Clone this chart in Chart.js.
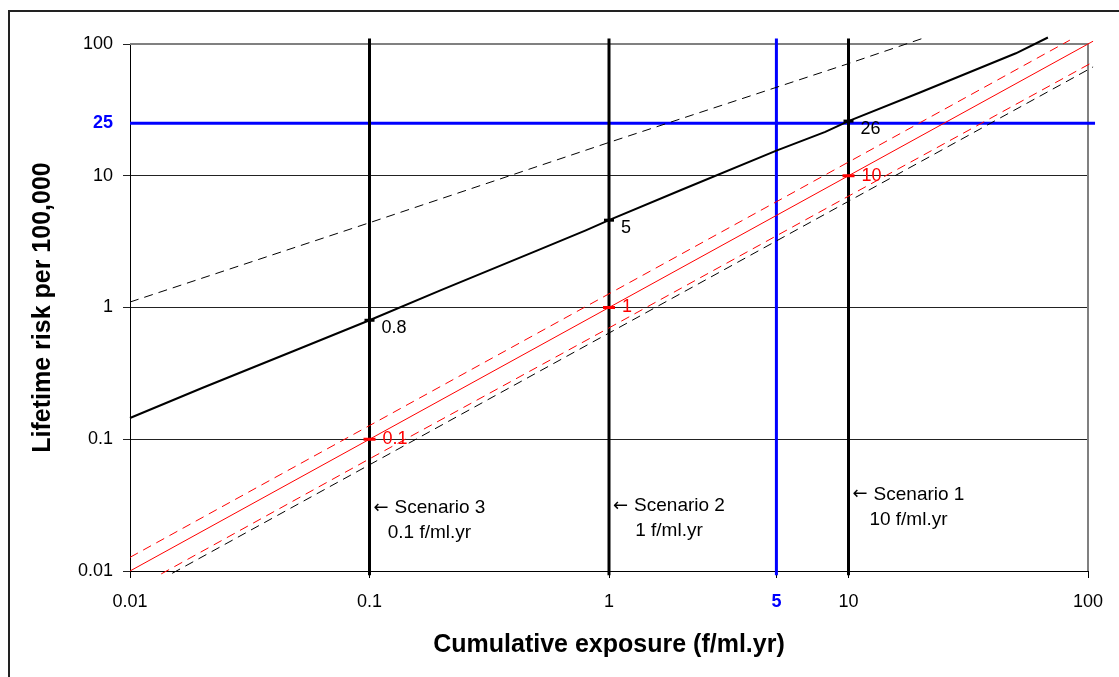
<!DOCTYPE html>
<html>
<head>
<meta charset="utf-8">
<script src="https://cdn.jsdelivr.net/npm/chart.js@4.4.0/dist/chart.umd.min.js"></script>
<style>
  body { margin: 0; background: #fff; }
</style>
</head>
<body>
<canvas id="chart" width="1119" height="677"></canvas>
<script>
// tick labels
const xTicks = [0.01, 0.1, 1, 5, 10, 100];
const yTicks = [0.01, 0.1, 1, 10, 25, 100];

// reference limits (blue lines)
const exposureLimit = 5;
const riskLimit = 25;

// scenarios (f/ml.yr)
const scenarioX = [0.1, 1, 10];
const scenarioNames = ["Scenario 3", "Scenario 2", "Scenario 1"];
const scenarioUnits = ["0.1 f/ml.yr", "1 f/ml.yr", "10 f/ml.yr"];
const scenarioTextY = [0.030, 0.031, 0.038];

// risk read at each scenario
const centralAtScenario = [0.8, 4.6, 26];
const centralLabels = ["0.8", "5", "26"];
const linearAtScenario = [0.1, 1, 10];
const linearLabels = ["0.1", "1", "10"];

// black solid curve
const centralX = [0.01, 0.02, 0.05, 0.1, 0.2, 0.5, 0.8, 1, 2, 5, 8, 10, 20, 50, 68];
const centralY = [0.145, 0.245, 0.48, 0.8, 1.36, 2.7, 3.85, 4.6, 7.8, 15.5, 21.5, 26, 43, 85, 112];

// black dashed upper curve
const upperX = [0.01, 0.1, 1, 10, 20.9];
const upperY = [1.1, 4.4, 17.9, 71, 112];

// black dashed lower curve
const lowerX = [0.015, 0.1, 1, 10, 105];
const lowerY = [0.0096, 0.064, 0.64, 6.4, 67];

// red solid line
const linearX = [0.01, 0.1, 1, 10, 105];
const linearY = [0.01, 0.1, 1, 10, 105];

// red dashed band
const linHighX = [0.01, 0.1, 1, 10, 84];
const linHighY = [0.0127, 0.127, 1.27, 12.7, 107];
const linLowX = [0.0135, 0.1, 1, 10, 105];
const linLowY = [0.0095, 0.071, 0.70, 7.0, 73];

const FONT = "'Liberation Sans', Arial, sans-serif";

function pts(xs, ys) {
  return xs.map((x, i) => ({ x: x, y: ys[i] }));
}

function lineSet(data, color, width, dash, order) {
  return {
    type: "line",
    data: data,
    borderColor: color,
    borderWidth: width,
    borderDash: dash || [],
    pointRadius: 0,
    showLine: true,
    fill: false,
    tension: 0,
    clip: 10,
    order: order,
  };
}

let datasets = [];

// scenario verticals
scenarioX.forEach((x) => {
  datasets.push(lineSet([{ x: x, y: 0.0093 }, { x: x, y: 110 }], "#000", 3, null, 5));
});
datasets.push(lineSet([{ x: exposureLimit, y: 0.0093 }, { x: exposureLimit, y: 110 }], "#0000ff", 3, null, 5));
datasets.push(lineSet([{ x: 0.01, y: riskLimit }, { x: 107, y: riskLimit }], "#0000ff", 3, null, 5));

datasets.push(lineSet(pts(upperX, upperY), "#000", 1, [9, 6], 3));
datasets.push(lineSet(pts(lowerX, lowerY), "#000", 1, [9, 6], 3));
datasets.push(lineSet(pts(linHighX, linHighY), "#ff0000", 1, [9, 6], 3));
datasets.push(lineSet(pts(linLowX, linLowY), "#ff0000", 1, [9, 6], 3));
datasets.push(lineSet(pts(linearX, linearY), "#ff0000", 1, null, 2));
datasets.push(lineSet(pts(centralX, centralY), "#000", 2, null, 2));

// markers
datasets.push({
  type: "scatter",
  data: pts(scenarioX, centralAtScenario),
  pointStyle: "line",
  pointRadius: 5,
  borderWidth: 3,
  borderColor: "#000",
  backgroundColor: "#000",
  order: 1,
});
datasets.push({
  type: "scatter",
  data: pts(scenarioX, linearAtScenario),
  pointStyle: "line",
  pointRadius: 6,
  borderWidth: 3,
  borderColor: "#ff0000",
  backgroundColor: "#ff0000",
  order: 1,
});

const decorPlugin = {
  id: "decor",
  beforeDraw(chart) {
    const ctx = chart.ctx;
    ctx.save();
    ctx.fillStyle = "#fff";
    ctx.fillRect(0, 0, chart.width, chart.height);
    ctx.strokeStyle = "#222";
    ctx.lineWidth = 2;
    ctx.strokeRect(9, 11, chart.width + 20, chart.height + 20);
    ctx.restore();
  },
  beforeDatasetsDraw(chart) {
    const ctx = chart.ctx;
    const a = chart.chartArea;
    ctx.save();
    ctx.strokeStyle = "#808080";
    ctx.lineWidth = 2;
    ctx.beginPath();
    ctx.moveTo(a.left, a.top);
    ctx.lineTo(a.right, a.top);
    ctx.lineTo(a.right, a.bottom);
    ctx.stroke();
    ctx.restore();
  },
  afterDatasetsDraw(chart) {
    const ctx = chart.ctx;
    const xs = chart.scales.x;
    const ys = chart.scales.y;
    ctx.save();
    ctx.font = "18px " + FONT;
    ctx.textBaseline = "middle";
    ctx.textAlign = "left";
    scenarioX.forEach((x, i) => {
      const px = xs.getPixelForValue(x);
      ctx.fillStyle = "#000";
      ctx.fillText(centralLabels[i], px + 12, ys.getPixelForValue(centralAtScenario[i]) + 8);
      ctx.fillStyle = "#ff0000";
      ctx.fillText(linearLabels[i], px + 13, ys.getPixelForValue(linearAtScenario[i]));
    });
    // scenario notes
    ctx.fillStyle = "#000";
    const arrowFont = "18px 'DejaVu Sans', sans-serif";
    const noteFont = "19px " + FONT;
    scenarioX.forEach((x, i) => {
      const left = xs.getPixelForValue(x) + 4;
      const py = ys.getPixelForValue(scenarioTextY[i]);
      ctx.textAlign = "left";
      ctx.font = arrowFont;
      const aw = ctx.measureText("\u2190").width;
      ctx.fillText("\u2190", left, py);
      ctx.font = noteFont;
      const gap = 6;
      const nw = ctx.measureText(scenarioNames[i]).width;
      ctx.fillText(scenarioNames[i], left + aw + gap, py);
      const cx = left + (aw + gap + nw) / 2;
      ctx.textAlign = "center";
      ctx.fillText(scenarioUnits[i], cx, py + 25);
    });
    ctx.restore();
  },
};

new Chart(document.getElementById("chart"), {
  type: "scatter",
  data: { datasets: datasets },
  plugins: [decorPlugin],
  options: {
    responsive: false,
    animation: false,
    devicePixelRatio: 1,
    layout: { padding: { left: 10, top: 44, right: 31, bottom: 0 } },
    plugins: {
      legend: { display: false },
      tooltip: { enabled: false },
    },
    scales: {
      x: {
        type: "logarithmic",
        min: 0.01,
        max: 100,
        afterBuildTicks: (s) => { s.ticks = xTicks.map((v) => ({ value: v })); },
        afterFit: (s) => { s.height = 106; },
        border: { display: true, color: "#000", width: 1 },
        grid: { drawOnChartArea: false, tickLength: 7, color: "#000" },
        ticks: {
          autoSkip: false,
          maxRotation: 0,
          padding: 13,
          callback: (v) => String(v),
          color: (c) => (c.tick && c.tick.value === exposureLimit ? "#0000ff" : "#000"),
          font: (c) => ({ family: FONT, size: 18, weight: c.tick && c.tick.value === exposureLimit ? "bold" : "normal" }),
        },
        title: {
          display: true,
          text: "Cumulative exposure (f/ml.yr)",
          color: "#000",
          font: { family: FONT, size: 25, weight: "bold" },
          padding: { top: 0, bottom: 17 },
        },
      },
      y: {
        type: "logarithmic",
        min: 0.01,
        max: 100,
        afterBuildTicks: (s) => { s.ticks = yTicks.map((v) => ({ value: v })); },
        afterFit: (s) => { s.width = 120; },
        border: { display: true, color: "#000", width: 1 },
        grid: {
          tickLength: 7,
          color: (c) => (c.tick && c.tick.value === riskLimit ? "rgba(0,0,0,0)" : "#222"),
        },
        ticks: {
          autoSkip: false,
          padding: 10,
          callback: (v) => String(v),
          color: (c) => (c.tick && c.tick.value === riskLimit ? "#0000ff" : "#000"),
          font: (c) => ({ family: FONT, size: 18, weight: c.tick && c.tick.value === riskLimit ? "bold" : "normal" }),
        },
        title: {
          display: true,
          text: "Lifetime risk per 100,000",
          color: "#000",
          font: { family: FONT, size: 25, weight: "bold" },
          padding: { top: 18, bottom: 0 },
        },
      },
    },
  },
});
</script>
</body>
</html>
